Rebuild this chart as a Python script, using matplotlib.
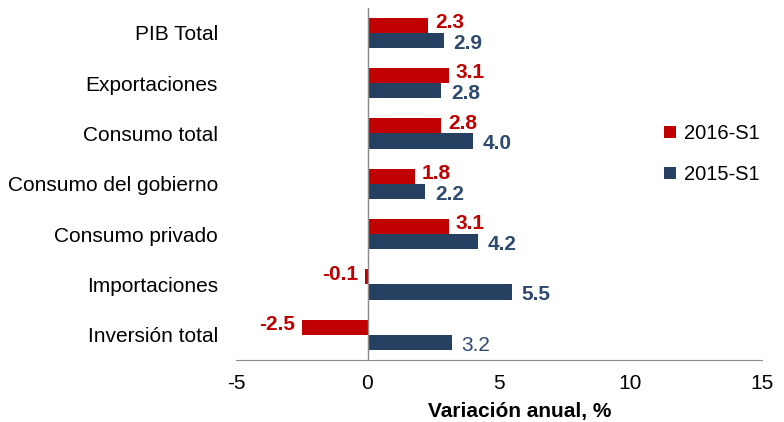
import matplotlib.pyplot as plt
import numpy as np

plt.rcParams['font.family'] = ['Liberation Sans', 'DejaVu Sans']
plt.rcParams['axes.unicode_minus'] = False

categories = ['PIB Total', 'Exportaciones', 'Consumo total', 'Consumo del gobierno',
              'Consumo privado', 'Importaciones', 'Inversión total']
s2016 = [2.3, 3.1, 2.8, 1.8, 3.1, -0.1, -2.5]
s2015 = [2.9, 2.8, 4.0, 2.2, 4.2, 5.5, 3.2]

red = '#C00000'
navy = '#254061'
grey = '#8C8C8C'

fig = plt.figure(figsize=(7.84, 4.22), dpi=100)
ax = fig.add_axes([0.301, 0.147, 0.671, 0.835])

y = np.arange(len(categories))[::-1]
h = 0.3
ax.barh(y + h / 2, s2016, height=h, color=red, label='2016-S1')
ax.barh(y - h / 2, s2015, height=h, color=navy, label='2015-S1')

for yi, v in zip(y, s2016):
    off = 5 if v >= 0 else -5
    ax.annotate(f'{v:.1f}', (v, yi + h / 2), xytext=(off, 2), textcoords='offset points',
                ha='left' if v >= 0 else 'right', va='center', color=red,
                fontsize=15, fontweight='bold')
for i, (yi, v) in enumerate(zip(y, s2015)):
    ax.annotate(f'{v:.1f}', (v, yi - h / 2), xytext=(7, -2), textcoords='offset points',
                ha='left', va='center', color='#2E4A6E',
                fontsize=15, fontweight='bold' if i < len(s2015) - 1 else 'normal')

ax.set_xlim(-5, 15)
ax.set_ylim(-0.5, len(categories) - 0.5)
ax.set_xticks([-5, 0, 5, 10, 15])
ax.set_yticks(y)
ax.set_yticklabels(categories, fontsize=15)
ax.tick_params(axis='y', length=0, pad=13)
ax.tick_params(axis='x', length=0, pad=10, labelsize=15)

for s in ['top', 'right', 'left']:
    ax.spines[s].set_visible(False)
ax.spines['bottom'].set_color(grey)
ax.axvline(0, color=grey, linewidth=1)

ax.set_xlabel('Variación anual, %', fontsize=15, fontweight='bold')
ax.xaxis.set_label_coords(0.54, -0.118)

ax.legend(loc='center left', bbox_to_anchor=(0.78, 0.585), frameon=False, fontsize=14.5,
          handlelength=0.55, handleheight=0.55, handletextpad=0.4, labelspacing=1.1)

plt.savefig('out.png', dpi=100)
